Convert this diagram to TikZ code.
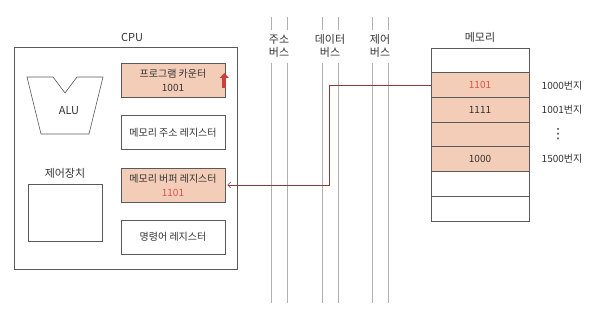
\documentclass[tikz,border=0pt]{standalone}
\usepackage{fontspec}
\setmainfont{Noto Sans CJK KR}
\newfontfamily\symfont{DejaVu Sans}
\usepackage{tikz}
\usetikzlibrary{arrows.meta,positioning,calc}

\definecolor{linegray}{HTML}{5A5A5A}
\definecolor{busgray}{HTML}{B0B0B0}
\definecolor{cellfill}{HTML}{F4CDB8}
\definecolor{numred}{HTML}{D9534F}
\definecolor{linkbrown}{HTML}{8B3A3A}
\definecolor{pcred}{HTML}{CF3F36}

\begin{document}
\begin{tikzpicture}[
    x=1pt, y=-1pt,
    every node/.style={font=\fontsize{10}{11}\selectfont, text=black!80},
    title/.style={font=\fontsize{11}{12.5}\selectfont},
    box/.style={draw=linegray, line width=0.6pt},
    reg/.style={box, minimum width=104pt, minimum height=34pt, inner sep=0pt, align=center},
    regon/.style={reg, fill=cellfill},
    memcell/.style={box, minimum width=98pt, minimum height=24.7pt, inner sep=0pt},
    bus/.style={draw=busgray, line width=0.6pt},
    link/.style={-{Straight Barb[length=3pt,width=6pt]}, draw=linkbrown, line width=0.6pt},
    uparrow/.style={-{Triangle[length=5pt,width=9pt]}, draw=pcred, line width=4pt},
]
\useasboundingbox (0,0) rectangle (590,315);

% CPU
\node[box, minimum width=223pt, minimum height=222pt] (cpu) at (125.5,158) {};
\node[title] (cpulabel) at (132,37) {CPU};

% ALU
\draw[box] (27,77) -- (53,77) -- (65,93) -- (77,77) -- (103,77)
    -- (89,134) -- (41,134) -- cycle;
\node[title] (alu) at (69,111) {ALU};

% 제어장치
\node[box, minimum width=74pt, minimum height=57pt] (cu) at (65,212.5) {};
\node[title] (culabel) at (65,173) {제어장치};

% registers
\node[regon] (pc) at (173,80) {프로그램 카운터\\[3pt]1001};
\node[reg] (mar) at (173,132.5) {메모리 주소 레지스터};
\node[regon] (mbr) at (173,185) {메모리 버퍼 레지스터\\[3pt]\textcolor{numred}{1101}};
\node[reg] (ir) at (173,237) {명령어 레지스터};
\draw[uparrow] ([xshift=-1pt,yshift=-8pt]pc.east) -- ([xshift=-1pt,yshift=7pt]pc.east);

% buses
\foreach \x/\name/\first in {279/addr/주소, 330/data/데이터, 380/ctrl/제어}{
  \node[title, align=center] (\name) at (\x,46) {\first\\[1pt]버스};
  \foreach \dx in {-8,8}{
    \draw[bus] (\x+\dx,17) -- (\x+\dx,30);
    \draw[bus] (\x+\dx,63) -- (\x+\dx,303);
  }
}

% memory
\node[title] (memlabel) at (480,37) {메모리};
\foreach \i in {1,...,7}{
  \node[memcell] (m\i) at (480,{48+12.35+(\i-1)*24.7}) {};
}
\foreach \i in {2,...,5}{
  \node[memcell, fill=cellfill] at (m\i) {};
}
\node[text=numred] at (m2) {1101};
\node at (m3) {1111};
\node at (m5) {1000};
\node (a1) at (562,86) {1000번지};
\node (a2) at (562,110) {1001번지};
\node[font=\symfont\fontsize{14}{15}\selectfont] (a3) at (558,134) {⋮};
\node (a4) at (562,159) {1500번지};

% data path
\coordinate (bend) at (329,0);
\draw[link, shorten >=2pt] (m2.west) -| (bend |- mbr.east) -- (mbr.east);
\end{tikzpicture}
\end{document}
